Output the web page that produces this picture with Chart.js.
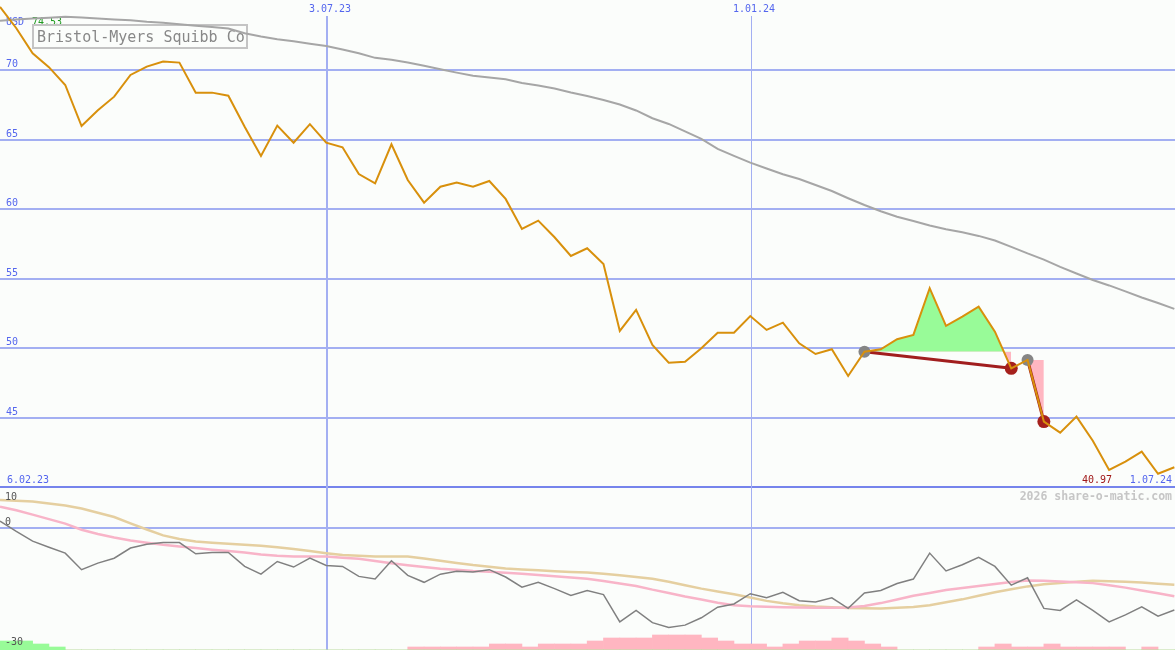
<!DOCTYPE html>
<html>
<head>
<meta charset="utf-8">
<title>Bristol-Myers Squibb Co</title>
<script src="https://cdn.jsdelivr.net/npm/chart.js@4.4.1/dist/chart.umd.min.js"></script>
<style>
  html, body { margin: 0; padding: 0; background: #fbfdfb; }
  #wrap { position: relative; width: 1175px; height: 650px; }
</style>
</head>
<body>
<div id="wrap"><canvas id="chart"></canvas></div>
<script>
// weekly bars, index 0 = left edge of the chart
const price = [74.53, 73.0, 71.2, 70.2, 68.92, 65.97, 67.1, 68.08, 69.64, 70.24,
    70.6, 70.53, 68.37, 68.37, 68.15, 65.92, 63.82, 66.0, 64.77, 66.1,
    64.77, 64.44, 62.52, 61.85, 64.66, 62.09, 60.46, 61.61, 61.9, 61.61,
    62.02, 60.73, 58.57, 59.17, 57.97, 56.63, 57.18, 56.05, 51.24, 52.75,
    50.23, 48.96, 49.03, 49.99, 51.11, 51.11, 52.31, 51.31, 51.83, 50.35,
    49.58, 49.92, 48.0, 49.75, 49.92, 50.64, 50.95, 54.31, 51.6, 52.26,
    52.98, 51.19, 48.55, 49.15, 44.72, 43.93, 45.08, 43.35, 41.24, 41.84,
    42.56, 40.97, 41.44];

const movingAvg = [73.54, 73.63, 73.70, 73.76, 73.82, 73.77, 73.70, 73.63, 73.58, 73.47,
    73.39, 73.29, 73.18, 73.09, 72.98, 72.64, 72.41, 72.21, 72.06, 71.89,
    71.73, 71.47, 71.2, 70.87, 70.73, 70.54, 70.30, 70.05, 69.81, 69.58,
    69.46, 69.33, 69.07, 68.89, 68.67, 68.38, 68.13, 67.84, 67.52, 67.09,
    66.53, 66.12, 65.58, 65.04, 64.32, 63.82, 63.34, 62.92, 62.50, 62.16,
    61.73, 61.30, 60.78, 60.29, 59.84, 59.45, 59.14, 58.82, 58.55, 58.33,
    58.07, 57.74, 57.28, 56.81, 56.37, 55.84, 55.37, 54.90, 54.51, 54.08,
    53.64, 53.25, 52.82];

// lower panel
const oscillator = [1.63, -0.93, -3.3, -4.8, -6.24, -10.3, -8.7, -7.5, -5.0, -4.05,
    -3.66, -3.66, -6.41, -6.1, -6.1, -9.5, -11.4, -8.3, -9.66, -7.46,
    -9.27, -9.5, -11.95, -12.6, -8.12, -11.7, -13.4, -11.4, -10.7, -10.9,
    -10.3, -12.1, -14.6, -13.4, -14.95, -16.6, -15.4, -16.4, -23.1, -20.3,
    -23.3, -24.5, -23.9, -22.1, -19.5, -18.7, -16.2, -17.2, -15.85, -17.9,
    -18.2, -17.2, -19.8, -16.0, -15.4, -13.7, -12.6, -6.24, -10.6, -9.1,
    -7.3, -9.5, -14.1, -12.3, -19.8, -20.3, -17.7, -20.3, -23.1, -21.4,
    -19.4, -21.7, -20.2];

const oscSignal = [5.12, 4.25, 3.2, 2.1, 1.0, -0.5, -1.55, -2.4, -3.15, -3.7,
    -4.2, -4.6, -5.0, -5.4, -5.75, -6.1, -6.6, -6.9, -7.07, -7.07,
    -7.07, -7.35, -7.65, -8.2, -8.75, -9.2, -9.65, -10.05, -10.3, -10.6,
    -10.8, -11.05, -11.3, -11.6, -11.9, -12.2, -12.55, -13.1, -13.7, -14.3,
    -15.2, -16.0, -16.9, -17.6, -18.4, -19.0, -19.25, -19.4, -19.5, -19.6,
    -19.65, -19.65, -19.55, -19.2, -18.5, -17.6, -16.7, -16.0, -15.3, -14.8,
    -14.3, -13.8, -13.3, -12.95, -13.0, -13.2, -13.4, -13.6, -14.1, -14.7,
    -15.4, -16.1, -16.8];

const oscSlow = [6.76, 6.58, 6.4, 5.9, 5.45, 4.7, 3.65, 2.6, 1.05, -0.45,
    -1.9, -2.8, -3.4, -3.7, -3.92, -4.16, -4.42, -4.8, -5.25, -5.73,
    -6.25, -6.7, -6.88, -7.06, -7.07, -7.07, -7.57, -8.12, -8.65, -9.16,
    -9.58, -10.0, -10.25, -10.46, -10.67, -10.87, -11.0, -11.3, -11.65, -12.1,
    -12.55, -13.25, -14.1, -14.95, -15.65, -16.35, -17.15, -17.95, -18.55, -19.0,
    -19.35, -19.5, -19.7, -19.75, -19.8, -19.65, -19.45, -19.05, -18.3, -17.58,
    -16.7, -15.85, -15.1, -14.4, -13.87, -13.57, -13.28, -13.0, -13.13, -13.26,
    -13.47, -13.73, -14.0];

// histogram steps per week: positive = green, negative = pink
const histLevels = [3, 3, 2, 1, 0, 0, 0, 0, 0, 0,
    0, 0, 0, 0, 0, 0, 0, 0, 0, 0,
    0, 0, 0, 0, 0, -1, -1, -1, -1, -1,
    -2, -2, -1, -2, -2, -2, -3, -4, -4, -4,
    -5, -5, -5, -4, -3, -2, -2, -1, -2, -3,
    -3, -4, -3, -2, -1, 0, 0, 0, 0, 0,
    -1, -2, -1, -1, -2, -1, -1, -1, -1, 0,
    -1, 0, 0];

const tradeEntries = [53, 63];
const tradeExits = [62, 64];

const priceTicks = [45, 50, 55, 60, 65, 70];
const priceFloor = 40;
const oscTicks = [10, 0, -30];
const dateTickPos = [20.05, 46.05];
const dateTickLabels = ['3.07.23', '1.01.24'];
const firstDate = '6.02.23';
const lastDate = '1.07.24';
const titleText = 'Bristol-Myers Squibb Co';
const currency = 'USD';
const watermark = '2026 share-o-matic.com';

const COLORS = {
    bg: '#fbfdfb',
    grid: '#a3aff2',
    floor: '#7684ec',
    axisText: '#5466ee',
    price: '#d8900c',
    avg: '#a6a6a6',
    gain: '#98fb98',
    loss: '#ffb6c1',
    tradeLine: '#a11e1e',
    entry: '#858585',
    exit: '#a5201c',
    osc: '#808080',
    oscSignal: '#f8b4c8',
    oscSlow: '#e5cfa0',
};

const MONO = '"DejaVu Sans Mono", "Liberation Mono", monospace';
const pts = (arr, from = 0) => arr.map((v, i) => ({ x: i + from, y: v }));

const decor = {
    id: 'decor',
    beforeDraw(chart) {
        const { ctx, width, height } = chart;
        ctx.save();
        ctx.fillStyle = COLORS.bg;
        ctx.fillRect(0, 0, width, height);
        ctx.restore();
    },
    beforeDatasetsDraw(chart) {
        const { ctx, chartArea: { left, right, bottom }, scales: { x, y, y2 } } = chart;
        ctx.save();

        // horizontal grid
        const hline = (py, color, w) => {
            ctx.beginPath();
            ctx.strokeStyle = color; ctx.lineWidth = w;
            ctx.moveTo(left, py); ctx.lineTo(right, py); ctx.stroke();
        };
        priceTicks.forEach(v => hline(Math.round(y.getPixelForValue(v)), COLORS.grid, 2));
        hline(Math.round(y2.getPixelForValue(0)), COLORS.grid, 2);
        hline(Math.round(y.getPixelForValue(priceFloor)), COLORS.floor, 2);

        // date lines
        dateTickPos.forEach((v, i) => {
            const w = i === 0 ? 2 : 1;
            const px = Math.round(x.getPixelForValue(v)) + (w === 1 ? 0.5 : 0);
            ctx.beginPath();
            ctx.strokeStyle = COLORS.grid; ctx.lineWidth = w;
            ctx.moveTo(px, 16); ctx.lineTo(px, bottom); ctx.stroke();
        });

        ctx.font = '10px ' + MONO;
        ctx.textBaseline = 'alphabetic';
        ctx.textAlign = 'left';
        ctx.fillStyle = COLORS.axisText;
        dateTickPos.forEach((v, i) => {
            ctx.fillText(dateTickLabels[i], Math.round(x.getPixelForValue(v)) - 18, 12);
        });
        priceTicks.forEach(v => ctx.fillText(String(v), 6, Math.round(y.getPixelForValue(v)) - 3));
        ctx.fillText(currency, 6, 25);
        const floorY = Math.round(y.getPixelForValue(priceFloor));
        ctx.fillText(firstDate, 7, floorY - 4);
        ctx.textAlign = 'right';
        ctx.fillText(lastDate, 1172, floorY - 4);
        ctx.fillStyle = '#a01818';
        ctx.fillText(Math.min(...price).toFixed(2), 1112, floorY - 4);
        ctx.textAlign = 'left';
        ctx.fillStyle = '#1f9a1f';
        ctx.fillText(price[0].toFixed(2), 32, 25);

        // watermark
        ctx.font = 'bold 11.5px ' + MONO;
        ctx.fillStyle = '#c6c6c6';
        ctx.textAlign = 'right';
        ctx.fillText(watermark, 1172, 500);

        // title box
        ctx.textAlign = 'left';
        ctx.strokeStyle = '#c4c4c4'; ctx.lineWidth = 2;
        ctx.strokeRect(33, 25, 214, 23);
        ctx.font = '15px ' + MONO;
        ctx.fillStyle = '#888';
        ctx.fillText(titleText, 37, 42);
        ctx.restore();
    },
    afterDatasetsDraw(chart) {
        const { ctx, scales: { y2 } } = chart;
        ctx.save();
        ctx.font = '10px ' + MONO;
        ctx.fillStyle = '#555';
        ctx.textAlign = 'left';
        oscTicks.forEach(v => {
            const py = Math.min(Math.max(y2.getPixelForValue(v) - 3, 500), 645);
            ctx.fillText(String(v), 5, Math.round(py));
        });
        ctx.restore();
    }
};

const datasets = [
    {
        label: 'Kurs', data: pts(price), yAxisID: 'y',
        borderColor: COLORS.price, borderWidth: 2, order: 0,
    },
    {
        label: 'Einstieg', data: tradeEntries.map(i => ({ x: i, y: price[i] })), yAxisID: 'y',
        showLine: false, pointRadius: 6, pointBackgroundColor: COLORS.entry, pointBorderWidth: 0, order: 1,
    },
    {
        label: 'Ausstieg', data: tradeExits.map(i => ({ x: i, y: price[i] })), yAxisID: 'y',
        showLine: false, pointRadius: 6.5, pointBackgroundColor: COLORS.exit, pointBorderWidth: 0, order: 1,
    },
    {
        label: 'Gleitender Durchschnitt', data: pts(movingAvg), yAxisID: 'y',
        borderColor: COLORS.avg, borderWidth: 2, order: 5,
    },
    {
        label: 'Oszillator', data: pts(oscillator), yAxisID: 'y2',
        borderColor: COLORS.osc, borderWidth: 1.5, order: 6,
    },
    {
        label: 'Signal', data: pts(oscSignal), yAxisID: 'y2',
        borderColor: COLORS.oscSignal, borderWidth: 2.5, order: 7,
    },
    {
        label: 'Langsam', data: pts(oscSlow), yAxisID: 'y2',
        borderColor: COLORS.oscSlow, borderWidth: 2.5, order: 8,
    },
    {
        type: 'bar', label: 'Hist +',
        data: histLevels.map((v, i) => ({ x: i + 0.5, y: v > 0 ? v : 0 })), yAxisID: 'yh',
        backgroundColor: COLORS.gain, order: 9,
    },
    {
        type: 'bar', label: 'Hist -',
        data: histLevels.map((v, i) => ({ x: i + 0.5, y: v < 0 ? -v : 0 })), yAxisID: 'yh',
        backgroundColor: COLORS.loss, order: 9,
    },
];

// trade zones: fill against the entry price and a line from entry to exit
tradeEntries.forEach((e, k) => {
    const xEnd = tradeExits[k];
    datasets.push({
        label: 'Zone ' + (k + 1), data: pts(price.slice(e, xEnd + 1), e), yAxisID: 'y',
        borderColor: 'rgba(0,0,0,0)', borderWidth: 0,
        fill: { target: { value: price[e] }, above: COLORS.gain, below: COLORS.loss },
        order: 4,
    });
    datasets.push({
        label: 'Trade ' + (k + 1), data: [{ x: e, y: price[e] }, { x: xEnd, y: price[xEnd] }], yAxisID: 'y',
        borderColor: COLORS.tradeLine, borderWidth: 3, order: 2,
    });
});

new Chart(document.getElementById('chart'), {
    type: 'line',
    data: { datasets },
    options: {
        responsive: true,
        maintainAspectRatio: false,
        animation: false,
        layout: { padding: 0, autoPadding: false },
        elements: {
            point: { radius: 0, hoverRadius: 0 },
            line: { tension: 0, fill: false },
            bar: { borderWidth: 0 },
        },
        datasets: {
            bar: { grouped: false, barPercentage: 1, categoryPercentage: 1 },
        },
        plugins: { legend: { display: false }, tooltip: { enabled: false } },
        events: [],
        scales: {
            x: { type: 'linear', min: 0, max: 72.04, display: false, offset: false },
            y: { type: 'linear', min: 28.30, max: 75.03, display: false },
            y2: { type: 'linear', min: -30, max: 129.4, display: false },
            yh: { type: 'linear', min: 0, max: 216.7, display: false },
        },
    },
    plugins: [decor],
});
</script>
</body>
</html>
